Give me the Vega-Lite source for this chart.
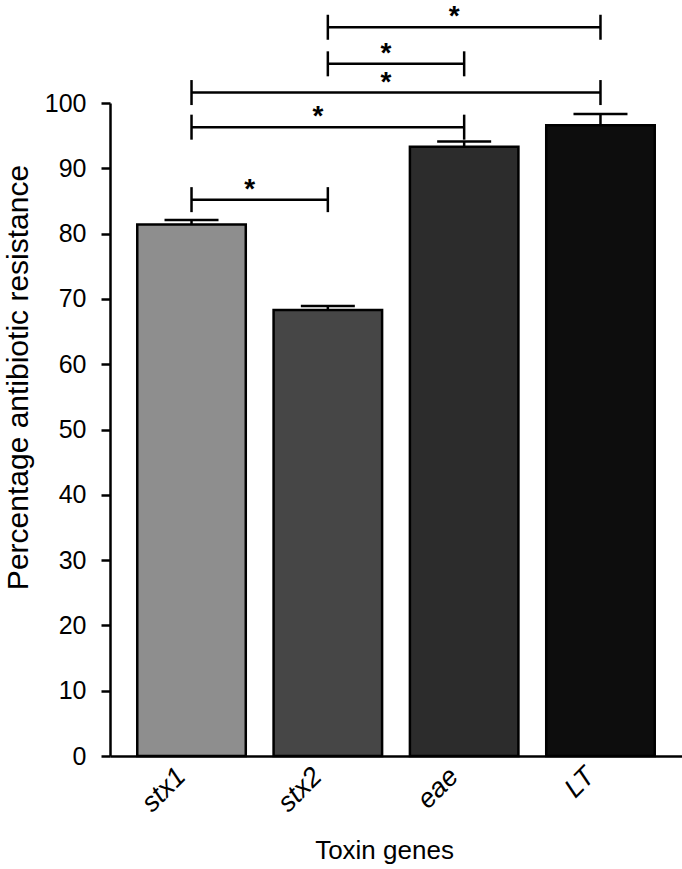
{
  "$schema": "https://vega.github.io/schema/vega-lite/v6.json",
  "width": 572,
  "height": 653,
  "autosize": {"type": "none"},
  "padding": {"left": 110, "top": 103, "right": 0, "bottom": 113},
  "background": "white",
  "config": {"view": {"stroke": null}, "font": "Liberation Sans"},
  "datasets": {
    "bars": [
      {"gene": "stx1", "value": 81.4, "hi": 82.1},
      {"gene": "stx2", "value": 68.3, "hi": 68.9},
      {"gene": "eae", "value": 93.3, "hi": 94.1},
      {"gene": "LT", "value": 96.6, "hi": 98.3}
    ],
    "sig": [
      {"from": "stx1", "to": "stx2", "level": 85.2, "mid": 0.5, "label": "*"},
      {"from": "stx1", "to": "eae", "level": 96.3, "mid": 1, "label": "*"},
      {"from": "stx1", "to": "LT", "level": 101.6, "mid": 1.5, "label": "*"},
      {"from": "stx2", "to": "eae", "level": 106.0, "mid": 1.5, "label": "*"},
      {"from": "stx2", "to": "LT", "level": 111.6, "mid": 2, "label": "*"}
    ]
  },
  "resolve": {"scale": {"x": "independent"}},
  "layer": [
    {
      "layer": [
        {
          "data": {"name": "bars"},
          "mark": {"type": "bar", "stroke": "black", "strokeWidth": 2.5},
          "encoding": {
            "x": {
              "field": "gene", "type": "nominal", "sort": ["stx1", "stx2", "eae", "LT"],
              "scale": {"domain": ["stx1", "stx2", "eae", "LT"], "paddingInner": 0.204, "paddingOuter": 0.2},
              "axis": {
                "title": "Toxin genes", "domainColor": "black", "domainWidth": 2.5, "ticks": false,
                "labelAngle": -45, "labelAlign": "right", "labelBaseline": "middle",
                "labelFontSize": 27, "labelFontStyle": "italic", "labelColor": "black",
                "labelPadding": 16, "labelOffset": -10,
                "titleFontSize": 26, "titleFontWeight": "normal", "titleColor": "black",
                "titleX": 274, "titleY": 94, "titleBaseline": "middle", "titleAlign": "center"
              }
            },
            "y": {
              "field": "value", "type": "quantitative",
              "scale": {"domain": [0, 100], "nice": false},
              "axis": {
                "title": "Percentage antibiotic resistance",
                "values": [0, 10, 20, 30, 40, 50, 60, 70, 80, 90, 100],
                "grid": false, "domainColor": "black", "domainWidth": 2.5,
                "tickColor": "black", "tickWidth": 2.5, "tickSize": 9,
                "labelFontSize": 25, "labelColor": "black", "labelPadding": 15,
                "titleFontSize": 30, "titleFontWeight": "normal", "titleColor": "black",
                "titleX": -92, "titleY": 274, "titleAngle": -90, "titleAlign": "center", "titleBaseline": "middle"
              }
            },
            "fill": {
              "field": "gene", "type": "nominal",
              "scale": {"domain": ["stx1", "stx2", "eae", "LT"], "range": ["#8e8e8e", "#464646", "#2c2c2c", "#0d0d0d"]},
              "legend": null
            }
          }
        },
        {
          "data": {"name": "bars"},
          "mark": {"type": "rule", "color": "black", "strokeWidth": 2.5},
          "encoding": {
            "x": {"field": "gene", "type": "nominal", "sort": ["stx1", "stx2", "eae", "LT"]},
            "y": {"field": "value", "type": "quantitative"},
            "y2": {"field": "hi"}
          }
        },
        {
          "data": {"name": "bars"},
          "mark": {"type": "tick", "orient": "horizontal", "size": 54, "thickness": 2.5, "color": "black", "opacity": 1},
          "encoding": {
            "x": {"field": "gene", "type": "nominal", "sort": ["stx1", "stx2", "eae", "LT"]},
            "y": {"field": "hi", "type": "quantitative"}
          }
        },
        {
          "data": {"name": "sig"},
          "mark": {"type": "rule", "color": "black", "strokeWidth": 2.5},
          "encoding": {
            "x": {"field": "from", "type": "nominal", "sort": ["stx1", "stx2", "eae", "LT"]},
            "x2": {"field": "to"},
            "y": {"field": "level", "type": "quantitative"}
          }
        },
        {
          "data": {"name": "sig"},
          "mark": {"type": "tick", "orient": "vertical", "size": 25, "thickness": 2.5, "color": "black", "opacity": 1},
          "encoding": {
            "x": {"field": "from", "type": "nominal", "sort": ["stx1", "stx2", "eae", "LT"]},
            "y": {"field": "level", "type": "quantitative"}
          }
        },
        {
          "data": {"name": "sig"},
          "mark": {"type": "tick", "orient": "vertical", "size": 25, "thickness": 2.5, "color": "black", "opacity": 1},
          "encoding": {
            "x": {"field": "to", "type": "nominal", "sort": ["stx1", "stx2", "eae", "LT"]},
            "y": {"field": "level", "type": "quantitative"}
          }
        }
      ]
    },
    {
      "data": {"name": "sig"},
      "mark": {"type": "text", "fontSize": 28, "fontWeight": "bold", "color": "black", "baseline": "alphabetic", "align": "center", "dy": -2, "dx": -10},
      "encoding": {
        "x": {"field": "mid", "type": "quantitative", "scale": {"domain": [-0.598, 3.598], "nice": false, "zero": false}, "axis": null},
        "y": {"field": "level", "type": "quantitative"},
        "text": {"field": "label"}
      }
    }
  ]
}
